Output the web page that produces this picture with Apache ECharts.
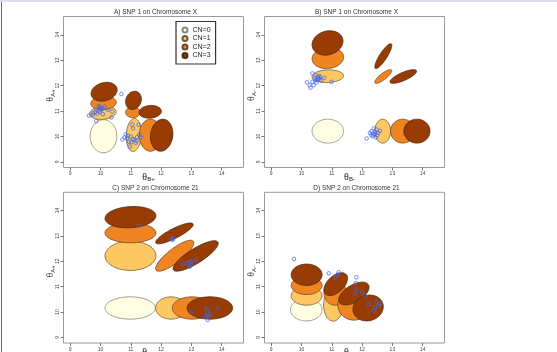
<!DOCTYPE html>
<html><head><meta charset="utf-8">
<script src="https://cdn.jsdelivr.net/npm/echarts@6/dist/echarts.min.js"></script>
<style>html,body{margin:0;padding:0;background:#fff}#c{width:557px;height:352px}</style>
</head><body><div id="c"></div>
<script>
// ---- data ----
const panelTitles = ['A) SNP 1 on Chromosome X', 'B) SNP 1 on Chromosome X', 'C) SNP 2 on Chromosome 21', 'D) SNP 2 on Chromosome 21'];
const yAxisSubs = ['A+', 'A-', 'A+', 'A-'];
const xAxisSubs = ['B+', 'B-', 'B+', 'B-'];
const tickValues = [9, 10, 11, 12, 13, 14];
const cnNames = ['CN=0', 'CN=1', 'CN=2', 'CN=3'];

// ellipses: [centre x, centre y, half-width x, half-height y, correlation]
const ellipsesA = [
  [[10.10, 10.01, 0.44, 0.65, 0]],
  [[10.08, 10.93, 0.44, 0.26, 0.15], [11.10, 10.06, 0.25, 0.65, 0.1]],
  [[10.10, 11.32, 0.42, 0.27, 0.1], [11.07, 10.95, 0.24, 0.21, 0], [11.65, 10.05, 0.37, 0.63, 0]],
  [[10.12, 11.76, 0.43, 0.37, 0.2], [11.09, 11.42, 0.26, 0.36, 0.15], [11.64, 10.97, 0.37, 0.25, 0.1], [12.02, 10.05, 0.37, 0.63, 0.1]]
];
const ellipsesB = [
  [[10.87, 10.21, 0.52, 0.47, 0]],
  [[10.87, 12.37, 0.52, 0.25, 0.08], [12.68, 10.21, 0.26, 0.47, 0]],
  [[10.87, 13.09, 0.52, 0.42, 0.08], [12.70, 12.36, 0.28, 0.27, 0.83], [13.34, 10.21, 0.40, 0.47, 0]],
  [[10.86, 13.68, 0.51, 0.48, 0.15], [12.70, 13.16, 0.28, 0.49, 0.86], [13.36, 12.36, 0.44, 0.27, 0.77], [13.81, 10.21, 0.43, 0.47, 0]]
];
const ellipsesC = [
  [[10.98, 10.16, 0.83, 0.44, 0]],
  [[10.99, 12.22, 0.84, 0.58, 0], [12.33, 10.16, 0.51, 0.44, 0]],
  [[10.99, 13.12, 0.84, 0.39, 0], [12.45, 12.22, 0.63, 0.61, 0.83], [13.02, 10.16, 0.65, 0.44, 0]],
  [[10.99, 13.74, 0.84, 0.42, 0.12], [12.44, 13.10, 0.62, 0.41, 0.85], [13.14, 12.21, 0.745, 0.60, 0.83], [13.61, 10.16, 0.75, 0.44, 0]]
];
const ellipsesD = [
  [[10.16, 10.09, 0.52, 0.44, 0]],
  [[10.17, 10.64, 0.51, 0.37, 0], [11.05, 10.28, 0.32, 0.64, 0]],
  [[10.17, 11.05, 0.51, 0.36, 0], [11.11, 10.76, 0.37, 0.49, 0], [11.73, 10.28, 0.53, 0.60, 0]],
  [[10.17, 11.47, 0.51, 0.42, 0], [11.13, 11.10, 0.39, 0.45, 0.5], [11.73, 10.73, 0.50, 0.45, 0.55], [12.20, 10.16, 0.50, 0.51, 0.1]]
];

const pointsA = [
  [9.62,10.82],[9.75,10.92],[9.86,11.05],[9.97,11.16],[10.03,11.05],[10.14,11.18],[10.25,11.05],[10.39,10.98],
  [10.36,10.75],[9.86,10.6],[9.75,10.85],[9.9,10.9],[9.99,10.97],[10.06,11.1],[9.95,11.2],[10.08,10.88],
  [9.93,11.0],[10.0,11.12],[9.82,10.95],[10.69,11.67],
  [10.72,9.88],[10.83,10.08],[10.88,9.93],[10.94,9.79],[11.0,10.0],[11.12,9.88],[11.16,9.75],[11.21,9.97],
  [11.28,10.07],[11.05,10.47],[11.07,10.32],[11.26,10.46],[10.97,9.6],[11.33,9.96],[10.8,9.96],[10.91,10.03],
  [11.07,9.9],[11.19,9.83],[11.02,9.77]
];
const pointsB = [
  [10.18,12.13],[10.27,12.02],[10.30,11.92],[10.36,12.15],[10.43,12.28],[10.47,12.41],[10.51,12.22],[10.54,12.35],
  [10.57,12.25],[10.62,12.31],[10.65,12.22],[10.76,12.31],[10.99,12.15],[10.36,12.48],[10.40,12.02],[10.49,12.12],
  [10.55,12.28],[10.6,12.38],[10.45,12.2],
  [12.15,9.92],[12.26,10.14],[12.31,10.21],[12.37,10.08],[12.42,10.18],[12.48,10.27],[12.53,10.14],[12.59,10.22],
  [12.45,9.96],[12.39,10.32],[12.35,10.01],[12.5,10.05],[12.42,10.1],[12.3,10.05]
];
const pointsC = [
  [11.27,13.41],[12.35,12.88],[12.38,12.84],[12.4,12.9],[12.71,11.89],[12.84,11.92],[12.95,11.96],[12.99,11.99],
  [13.15,12.05],[12.95,11.79],[13.0,11.85],[12.98,9.99],[13.50,10.14],[13.53,10.01],[13.48,9.82],[13.54,9.69],
  [13.63,9.9],[13.87,10.14],[13.55,9.85]
];
const pointsD = [
  [9.75,12.09],[10.90,11.53],[11.23,11.57],[11.19,11.48],[11.13,11.35],[11.81,11.37],[11.79,11.14],[11.81,10.88],
  [11.76,10.73],[12.01,10.79],[12.09,10.63],[12.22,10.31],[12.42,10.18],[12.48,10.40],[12.59,10.34],[12.40,10.05],
  [12.55,10.25]
];

// ---- styling / layout ----
const cnFill = ['#FFFDE2', '#FDC762', '#EF8421', '#983C04'];
const cnStroke = ['#8c887a', '#6e5a3e', '#6a4a2a', '#4a2a10'];
const panels = [
  { left: 63.5, top: 16.5, ell: ellipsesA, pts: pointsA },
  { left: 264.5, top: 16.5, ell: ellipsesB, pts: pointsB },
  { left: 63.5, top: 192.3, ell: ellipsesC, pts: pointsC },
  { left: 264.5, top: 192.3, ell: ellipsesD, pts: pointsD }
];
const W = 180, H = 151, AMIN = 8.78, AMAX = 14.72;

function makeRender(cn) {
  return function (params, api) {
    const cx = api.value(0), cy = api.value(1), sx = api.value(2), sy = api.value(3), rho = api.value(4);
    const d = Math.acos(rho);
    const pts = [];
    for (let i = 0; i < 90; i++) {
      const t = i / 90 * 2 * Math.PI;
      pts.push(api.coord([cx + sx * Math.cos(t), cy + sy * Math.cos(t - d)]));
    }
    return { type: 'polygon', shape: { points: pts },
      style: { fill: cnFill[cn], stroke: cnStroke[cn], lineWidth: 0.8 } };
  };
}

const grid = [], xAxis = [], yAxis = [], series = [], graphic = [];
panels.forEach((p, i) => {
  grid.push({ left: p.left, top: p.top, width: W, height: H, show: true,
    borderColor: '#9a9a9a', borderWidth: 1, backgroundColor: '#fff', containLabel: false });
  const common = { gridIndex: i, type: 'value', min: AMIN, max: AMAX,
    axisLine: { show: false }, splitLine: { show: false },
    axisTick: { show: true, customValues: tickValues, length: 3, lineStyle: { color: '#555', width: 0.8 } } };
  xAxis.push(Object.assign({}, common, {
    axisLabel: { customValues: tickValues, fontSize: 5, color: '#444', margin: 4, fontFamily: 'Liberation Sans' } }));
  yAxis.push(Object.assign({}, common, {
    axisLabel: { customValues: tickValues, fontSize: 5, color: '#444', margin: 3, rotate: 90, fontFamily: 'Liberation Sans' } }));
  for (let cn = 0; cn < 4; cn++) {
    series.push({ type: 'custom', name: cnNames[cn], xAxisIndex: i, yAxisIndex: i,
      data: p.ell[cn], encode: { x: 0, y: 1 }, renderItem: makeRender(cn), silent: true, z: 2,
      itemStyle: { color: cnFill[cn], borderColor: cnStroke[cn], borderWidth: 0.7 } });
  }
  series.push({ type: 'scatter', name: 'obs', xAxisIndex: i, yAxisIndex: i, data: p.pts,
    symbol: 'circle', symbolSize: 3.6, z: 3, silent: true,
    itemStyle: { color: 'rgba(0,0,0,0)', borderColor: '#3f67f2', borderWidth: 0.9 } });
  // title
  graphic.push({ type: 'text', x: p.left + W / 2 + 2, y: p.top - 4, silent: true,
    style: { text: panelTitles[i], fontSize: 6.5, fill: '#333', fontFamily: 'Liberation Sans',
      align: 'center', verticalAlign: 'middle' } });
  // y axis name (rotated)
  graphic.push({ type: 'text', x: p.left - 13, y: p.top + 79, rotation: Math.PI / 2, silent: true,
    style: { text: '{t|θ}{s|' + yAxisSubs[i] + '}', align: 'center', verticalAlign: 'middle',
      rich: { t: { fontSize: 10, fontFamily: 'Liberation Serif', fill: '#222', lineHeight: 11 },
              s: { fontSize: 6, fontFamily: 'Liberation Sans', fill: '#222', verticalAlign: 'bottom' } } } });
  // x axis name
  graphic.push({ type: 'text', x: p.left + 85, y: p.top + H + 9.5, silent: true,
    style: { text: '{t|θ}{s|' + xAxisSubs[i] + '}', align: 'center', verticalAlign: 'middle',
      rich: { t: { fontSize: 10, fontFamily: 'Liberation Serif', fill: '#222', lineHeight: 11 },
              s: { fontSize: 6, fontFamily: 'Liberation Sans', fill: '#222', verticalAlign: 'bottom' } } } });
});
graphic.push({ type: 'rect', shape: { x: 0, y: 0, width: 557, height: 2 }, style: { fill: '#dcdcf0' }, silent: true });
graphic.push({ type: 'rect', shape: { x: 1, y: 2, width: 1, height: 350 }, style: { fill: '#666' }, silent: true });

const chart = echarts.init(document.getElementById('c'), null, { renderer: 'canvas' });
chart.setOption({
  animation: false,
  backgroundColor: '#fff',
  grid, xAxis, yAxis, series, graphic,
  legend: { data: cnNames, orient: 'vertical', left: 176, top: 21.5, icon: 'circle',
    itemWidth: 5, itemHeight: 5, itemGap: 1.5, selectedMode: false,
    padding: [5, 5, 5, 5.5], borderColor: '#333', borderWidth: 1.2, backgroundColor: '#fff',
    textStyle: { fontSize: 7, color: '#222', fontFamily: 'Liberation Sans', lineHeight: 7 } }
});
</script></body></html>
